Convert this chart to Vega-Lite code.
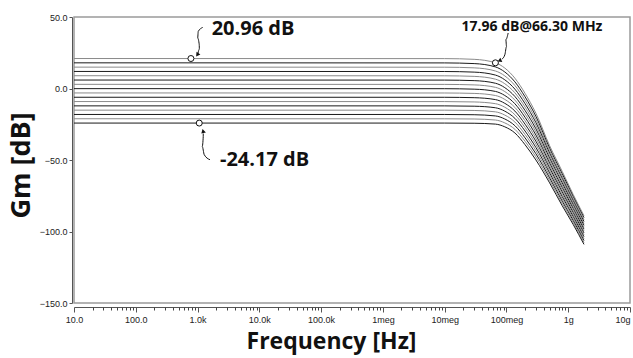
{
  "$schema": "https://vega.github.io/schema/vega-lite/v6.json",
  "width": 556,
  "height": 286,
  "autosize": {"type": "none"},
  "padding": {"left": 74, "top": 17, "right": 3, "bottom": 55},
  "background": "white",
  "config": {
    "view": {"stroke": "#9a9a9a", "strokeWidth": 1.5},
    "axis": {"grid": false, "labelFont": "Liberation Sans", "labelFontSize": 9, "labelColor": "#222", "domainColor": "#555", "tickColor": "#555", "titleFont": "Open Sans", "titleFontWeight": "bold", "titleColor": "#111"}
  },
  "datasets": {
    "curves": [
      {"c":0,"f":10,"g":20.96},{"c":0,"f":1e7,"g":20.9},{"c":0,"f":3e7,"g":20.4},{"c":0,"f":6.63e7,"g":17.96},{"c":0,"f":9.4e7,"g":14.3},{"c":0,"f":1.37e8,"g":7.2},{"c":0,"f":2e8,"g":-3.4},{"c":0,"f":3e8,"g":-17.3},{"c":0,"f":5e8,"g":-40},{"c":0,"f":8e8,"g":-58},{"c":0,"f":1.2e9,"g":-74},{"c":0,"f":1.8e9,"g":-89},
      {"c":1,"f":10,"g":17.95},{"c":1,"f":1e7,"g":17.89},{"c":1,"f":3e7,"g":17.42},{"c":1,"f":6.63e7,"g":15.1},{"c":1,"f":9.4e7,"g":11.56},{"c":1,"f":1.37e8,"g":4.65},{"c":1,"f":2e8,"g":-5.79},{"c":1,"f":3e8,"g":-19.48},{"c":1,"f":5e8,"g":-41.73},{"c":1,"f":8e8,"g":-59.6},{"c":1,"f":1.2e9,"g":-75.4},{"c":1,"f":1.8e9,"g":-90.33},
      {"c":2,"f":10,"g":14.94},{"c":2,"f":1e7,"g":14.89},{"c":2,"f":3e7,"g":14.44},{"c":2,"f":6.63e7,"g":12.25},{"c":2,"f":9.4e7,"g":8.82},{"c":2,"f":1.37e8,"g":2.09},{"c":2,"f":2e8,"g":-8.19},{"c":2,"f":3e8,"g":-21.66},{"c":2,"f":5e8,"g":-43.47},{"c":2,"f":8e8,"g":-61.2},{"c":2,"f":1.2e9,"g":-76.8},{"c":2,"f":1.8e9,"g":-91.67},
      {"c":3,"f":10,"g":11.93},{"c":3,"f":1e7,"g":11.88},{"c":3,"f":3e7,"g":11.46},{"c":3,"f":6.63e7,"g":9.39},{"c":3,"f":9.4e7,"g":6.08},{"c":3,"f":1.37e8,"g":-0.46},{"c":3,"f":2e8,"g":-10.58},{"c":3,"f":3e8,"g":-23.84},{"c":3,"f":5e8,"g":-45.2},{"c":3,"f":8e8,"g":-62.8},{"c":3,"f":1.2e9,"g":-78.2},{"c":3,"f":1.8e9,"g":-93.0},
      {"c":4,"f":10,"g":8.93},{"c":4,"f":1e7,"g":8.88},{"c":4,"f":3e7,"g":8.48},{"c":4,"f":6.63e7,"g":6.53},{"c":4,"f":9.4e7,"g":3.34},{"c":4,"f":1.37e8,"g":-3.01},{"c":4,"f":2e8,"g":-12.97},{"c":4,"f":3e8,"g":-26.02},{"c":4,"f":5e8,"g":-46.93},{"c":4,"f":8e8,"g":-64.4},{"c":4,"f":1.2e9,"g":-79.6},{"c":4,"f":1.8e9,"g":-94.34},
      {"c":5,"f":10,"g":5.92},{"c":5,"f":1e7,"g":5.87},{"c":5,"f":3e7,"g":5.5},{"c":5,"f":6.63e7,"g":3.68},{"c":5,"f":9.4e7,"g":0.6},{"c":5,"f":1.37e8,"g":-5.57},{"c":5,"f":2e8,"g":-15.37},{"c":5,"f":3e8,"g":-28.2},{"c":5,"f":5e8,"g":-48.67},{"c":5,"f":8e8,"g":-66.0},{"c":5,"f":1.2e9,"g":-81.0},{"c":5,"f":1.8e9,"g":-95.67},
      {"c":6,"f":10,"g":2.91},{"c":6,"f":1e7,"g":2.87},{"c":6,"f":3e7,"g":2.52},{"c":6,"f":6.63e7,"g":0.82},{"c":6,"f":9.4e7,"g":-2.14},{"c":6,"f":1.37e8,"g":-8.12},{"c":6,"f":2e8,"g":-17.76},{"c":6,"f":3e8,"g":-30.38},{"c":6,"f":5e8,"g":-50.4},{"c":6,"f":8e8,"g":-67.6},{"c":6,"f":1.2e9,"g":-82.4},{"c":6,"f":1.8e9,"g":-97.0},
      {"c":7,"f":10,"g":-0.1},{"c":7,"f":1e7,"g":-0.14},{"c":7,"f":3e7,"g":-0.46},{"c":7,"f":6.63e7,"g":-2.04},{"c":7,"f":9.4e7,"g":-4.88},{"c":7,"f":1.37e8,"g":-10.67},{"c":7,"f":2e8,"g":-20.15},{"c":7,"f":3e8,"g":-32.56},{"c":7,"f":5e8,"g":-52.13},{"c":7,"f":8e8,"g":-69.2},{"c":7,"f":1.2e9,"g":-83.8},{"c":7,"f":1.8e9,"g":-98.34},
      {"c":8,"f":10,"g":-3.11},{"c":8,"f":1e7,"g":-3.14},{"c":8,"f":3e7,"g":-3.44},{"c":8,"f":6.63e7,"g":-4.9},{"c":8,"f":9.4e7,"g":-7.62},{"c":8,"f":1.37e8,"g":-13.22},{"c":8,"f":2e8,"g":-22.54},{"c":8,"f":3e8,"g":-34.74},{"c":8,"f":5e8,"g":-53.86},{"c":8,"f":8e8,"g":-70.81},{"c":8,"f":1.2e9,"g":-85.2},{"c":8,"f":1.8e9,"g":-99.67},
      {"c":9,"f":10,"g":-6.12},{"c":9,"f":1e7,"g":-6.15},{"c":9,"f":3e7,"g":-6.42},{"c":9,"f":6.63e7,"g":-7.75},{"c":9,"f":9.4e7,"g":-10.36},{"c":9,"f":1.37e8,"g":-15.78},{"c":9,"f":2e8,"g":-24.94},{"c":9,"f":3e8,"g":-36.92},{"c":9,"f":5e8,"g":-55.6},{"c":9,"f":8e8,"g":-72.41},{"c":9,"f":1.2e9,"g":-86.6},{"c":9,"f":1.8e9,"g":-101.01},
      {"c":10,"f":10,"g":-9.13},{"c":10,"f":1e7,"g":-9.15},{"c":10,"f":3e7,"g":-9.4},{"c":10,"f":6.63e7,"g":-10.61},{"c":10,"f":9.4e7,"g":-13.1},{"c":10,"f":1.37e8,"g":-18.33},{"c":10,"f":2e8,"g":-27.33},{"c":10,"f":3e8,"g":-39.1},{"c":10,"f":5e8,"g":-57.33},{"c":10,"f":8e8,"g":-74.01},{"c":10,"f":1.2e9,"g":-88.0},{"c":10,"f":1.8e9,"g":-102.34},
      {"c":11,"f":10,"g":-12.14},{"c":11,"f":1e7,"g":-12.16},{"c":11,"f":3e7,"g":-12.38},{"c":11,"f":6.63e7,"g":-13.47},{"c":11,"f":9.4e7,"g":-15.84},{"c":11,"f":1.37e8,"g":-20.88},{"c":11,"f":2e8,"g":-29.72},{"c":11,"f":3e8,"g":-41.28},{"c":11,"f":5e8,"g":-59.06},{"c":11,"f":8e8,"g":-75.61},{"c":11,"f":1.2e9,"g":-89.4},{"c":11,"f":1.8e9,"g":-103.67},
      {"c":12,"f":10,"g":-15.14},{"c":12,"f":1e7,"g":-15.16},{"c":12,"f":3e7,"g":-15.36},{"c":12,"f":6.63e7,"g":-16.32},{"c":12,"f":9.4e7,"g":-18.58},{"c":12,"f":1.37e8,"g":-23.44},{"c":12,"f":2e8,"g":-32.12},{"c":12,"f":3e8,"g":-43.46},{"c":12,"f":5e8,"g":-60.8},{"c":12,"f":8e8,"g":-77.21},{"c":12,"f":1.2e9,"g":-90.8},{"c":12,"f":1.8e9,"g":-105.01},
      {"c":13,"f":10,"g":-18.15},{"c":13,"f":1e7,"g":-18.17},{"c":13,"f":3e7,"g":-18.34},{"c":13,"f":6.63e7,"g":-19.18},{"c":13,"f":9.4e7,"g":-21.32},{"c":13,"f":1.37e8,"g":-25.99},{"c":13,"f":2e8,"g":-34.51},{"c":13,"f":3e8,"g":-45.64},{"c":13,"f":5e8,"g":-62.53},{"c":13,"f":8e8,"g":-78.81},{"c":13,"f":1.2e9,"g":-92.2},{"c":13,"f":1.8e9,"g":-106.34},
      {"c":14,"f":10,"g":-21.16},{"c":14,"f":1e7,"g":-21.18},{"c":14,"f":3e7,"g":-21.32},{"c":14,"f":6.63e7,"g":-22.04},{"c":14,"f":9.4e7,"g":-24.06},{"c":14,"f":1.37e8,"g":-28.54},{"c":14,"f":2e8,"g":-36.9},{"c":14,"f":3e8,"g":-47.82},{"c":14,"f":5e8,"g":-64.26},{"c":14,"f":8e8,"g":-80.41},{"c":14,"f":1.2e9,"g":-93.6},{"c":14,"f":1.8e9,"g":-107.68},
      {"c":15,"f":10,"g":-24.17},{"c":15,"f":1e7,"g":-24.18},{"c":15,"f":3e7,"g":-24.3},{"c":15,"f":6.63e7,"g":-24.9},{"c":15,"f":9.4e7,"g":-26.8},{"c":15,"f":1.37e8,"g":-31.1},{"c":15,"f":2e8,"g":-39.3},{"c":15,"f":3e8,"g":-50},{"c":15,"f":5e8,"g":-66},{"c":15,"f":8e8,"g":-82.01},{"c":15,"f":1.2e9,"g":-95},{"c":15,"f":1.8e9,"g":-109.01}
    ],
    "arrows": [
      {"id":"a","o":1,"f":1209,"g":42.7},{"id":"a","o":2,"f":1026,"g":39.9},{"id":"a","o":3,"f":1004,"g":35.3},{"id":"a","o":4,"f":1065,"g":30.6},{"id":"a","o":5,"f":1070,"g":27.5},{"id":"a","o":6,"f":1015,"g":24.6},
      {"id":"b","o":1,"f":1236,"g":-31.5},{"id":"b","o":2,"f":1236,"g":-33.5},{"id":"b","o":3,"f":1191,"g":-40.5},{"id":"b","o":4,"f":1283,"g":-46.3},{"id":"b","o":5,"f":1587,"g":-49.8},
      {"id":"c","o":1,"f":1.066e8,"g":38.8},{"id":"c","o":2,"f":9.77e7,"g":34.1},{"id":"c","o":3,"f":1.004e8,"g":29.4},{"id":"c","o":4,"f":9.42e7,"g":23.6},{"id":"c","o":5,"f":8.43e7,"g":20.5}
    ],
    "heads": [
      {"id":"a","f":1005,"g":24.0},
      {"id":"b","f":1236,"g":-30.2},
      {"id":"c","f":7.9e7,"g":19.6}
    ],
    "markers": [
      {"f":781,"g":20.96},
      {"f":1065,"g":-24.17},
      {"f":6.63e7,"g":17.96}
    ],
    "labels": [
      {"kind":"big","f":1690,"g":37.6,"text":"20.96 dB"},
      {"kind":"big","f":2304,"g":-54.5,"text":"-24.17 dB"},
      {"kind":"small","f":1.877e7,"g":39.9,"text":"17.96 dB@66.30 MHz"}
    ]
  },
  "resolve": {"axis": {"x": "independent"}},
  "layer": [
    {
      "data": {"name": "curves"},
      "mark": {"type": "line", "strokeWidth": 1, "interpolate": "monotone", "clip": true},
      "encoding": {
        "x": {"field": "f", "type": "quantitative",
              "scale": {"type": "log", "domain": [10, 10000000000], "nice": false},
              "axis": {"orient": "bottom", "offset": 4, "values": [10, 100, 1000, 10000, 100000, 1000000, 10000000, 100000000, 1000000000, 10000000000],
                       "labelExpr": "datum.value < 50 ? '10.0' : datum.value < 500 ? '100.0' : datum.value < 5000 ? '1.0k' : datum.value < 50000 ? '10.0k' : datum.value < 500000 ? '100.0k' : datum.value < 5000000 ? '1meg' : datum.value < 50000000 ? '10meg' : datum.value < 500000000 ? '100meg' : datum.value < 5000000000 ? '1g' : '10g'",
                       "labelAlign": {"condition": {"test": "datum.value > 5000000000", "value": "right"}, "value": "center"},
                       "tickSize": 5, "labelPadding": 3, "labelOverlap": false, "labelBound": false, "labelFlush": false,
                       "title": "Frequency [Hz]", "titleFontSize": 23, "titlePadding": 6, "titleX": 257, "titleAnchor": "middle"}},
        "y": {"field": "g", "type": "quantitative",
              "scale": {"domain": [-150, 50], "nice": false, "zero": false},
              "axis": {"values": [-150, -100, -50, 0, 50], "format": ".1f", "offset": 2, "tickSize": 3, "labelPadding": 2,
                       "title": "Gm [dB]", "titleFontSize": 27, "titlePadding": 4, "titleY": 148, "titleAnchor": "middle"}},
        "detail": {"field": "c"},
        "color": {"field": "c", "type": "nominal", "legend": null,
                  "scale": {"domain": [0,1,2,3,4,5,6,7,8,9,10,11,12,13,14,15],
                            "range": ["#8a8a8a","#1a1a1a","#8a8a8a","#1a1a1a","#8a8a8a","#1a1a1a","#8a8a8a","#1a1a1a","#8a8a8a","#1a1a1a","#8a8a8a","#1a1a1a","#8a8a8a","#1a1a1a","#8a8a8a","#1a1a1a"]}}
      }
    },
    {
      "data": {"name": "arrows"},
      "mark": {"type": "line", "color": "#111", "strokeWidth": 1, "interpolate": "monotone"},
      "encoding": {
        "x": {"field": "f", "type": "quantitative",
              "axis": {"orient": "bottom", "offset": 4, "labels": false, "domain": false, "tickSize": 3, "tickColor": "#444", "title": null,
                       "values": [20,30,40,50,60,70,80,90,200,300,400,500,600,700,800,900,2000,3000,4000,5000,6000,7000,8000,9000,20000,30000,40000,50000,60000,70000,80000,90000,200000,300000,400000,500000,600000,700000,800000,900000,2000000,3000000,4000000,5000000,6000000,7000000,8000000,9000000,20000000,30000000,40000000,50000000,60000000,70000000,80000000,90000000,200000000,300000000,400000000,500000000,600000000,700000000,800000000,900000000,2000000000,3000000000,4000000000,5000000000,6000000000,7000000000,8000000000,9000000000]}},
        "y": {"field": "g", "type": "quantitative"},
        "detail": {"field": "id"},
        "order": {"field": "o"}
      }
    },
    {
      "data": {"name": "heads"},
      "transform": [{"filter": "datum.id == 'a'"}],
      "mark": {"type": "point", "shape": "triangle", "filled": true, "color": "#111", "size": 22, "angle": 215, "opacity": 1},
      "encoding": {"x": {"field": "f", "type": "quantitative", "axis": null}, "y": {"field": "g", "type": "quantitative"}}
    },
    {
      "data": {"name": "heads"},
      "transform": [{"filter": "datum.id == 'b'"}],
      "mark": {"type": "point", "shape": "triangle", "filled": true, "color": "#111", "size": 22, "angle": 345, "opacity": 1},
      "encoding": {"x": {"field": "f", "type": "quantitative", "axis": null}, "y": {"field": "g", "type": "quantitative"}}
    },
    {
      "data": {"name": "heads"},
      "transform": [{"filter": "datum.id == 'c'"}],
      "mark": {"type": "point", "shape": "triangle", "filled": true, "color": "#111", "size": 22, "angle": 245, "opacity": 1},
      "encoding": {"x": {"field": "f", "type": "quantitative", "axis": null}, "y": {"field": "g", "type": "quantitative"}}
    },
    {
      "data": {"name": "markers"},
      "mark": {"type": "point", "shape": "circle", "filled": true, "fill": "white", "stroke": "#111", "strokeWidth": 1, "size": 36, "opacity": 1},
      "encoding": {"x": {"field": "f", "type": "quantitative", "axis": null}, "y": {"field": "g", "type": "quantitative"}}
    },
    {
      "data": {"name": "labels"},
      "transform": [{"filter": "datum.kind == 'big'"}],
      "mark": {"type": "text", "font": "Open Sans", "fontWeight": "bold", "fontSize": 20, "align": "left", "baseline": "alphabetic", "color": "#111"},
      "encoding": {"x": {"field": "f", "type": "quantitative", "axis": null}, "y": {"field": "g", "type": "quantitative"}, "text": {"field": "text"}}
    },
    {
      "data": {"name": "labels"},
      "transform": [{"filter": "datum.kind == 'small'"}],
      "mark": {"type": "text", "font": "Open Sans", "fontWeight": "bold", "fontSize": 14, "align": "left", "baseline": "alphabetic", "color": "#111"},
      "encoding": {"x": {"field": "f", "type": "quantitative", "axis": null}, "y": {"field": "g", "type": "quantitative"}, "text": {"field": "text"}}
    }
  ]
}
